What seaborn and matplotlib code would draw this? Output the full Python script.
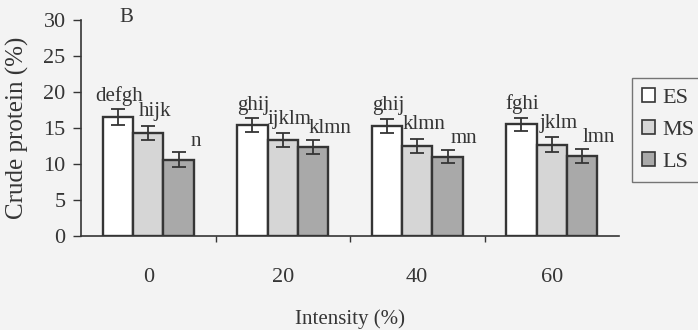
import pandas as pd
import matplotlib
matplotlib.use("Agg")
import matplotlib.pyplot as plt
import seaborn as sns

# Data
intensity = ["0", "20", "40", "60"]
stages = ["ES", "MS", "LS"]
es_vals = [16.5, 15.4, 15.3, 15.5]
ms_vals = [14.3, 13.3, 12.5, 12.7]
ls_vals = [10.6, 12.4, 11.0, 11.1]
es_err = [1.1, 0.95, 1.0, 0.95]
ms_err = [0.95, 0.95, 0.95, 1.0]
ls_err = [1.0, 0.95, 0.9, 0.95]
es_letters = ["defgh", "ghij", "ghij", "fghi"]
ms_letters = ["hijk", "ijklm", "klmn", "jklm"]
ls_letters = ["n", "klmn", "mn", "lmn"]

vals = [es_vals, ms_vals, ls_vals]
errs = [es_err, ms_err, ls_err]
letters = [es_letters, ms_letters, ls_letters]

rows = []
for s, v in zip(stages, vals):
    for x, y in zip(intensity, v):
        rows.append({"Intensity": x, "Stage": s, "CP": y})
data = pd.DataFrame(rows)

sns.set_style("ticks")
plt.rcParams["font.family"] = ["Liberation Serif", "DejaVu Serif"]
ink = "#353535"
bg = "#f3f3f3"

fig = plt.figure(figsize=(6.98, 3.3), dpi=100, facecolor=bg)
ax = fig.add_axes([81 / 698, 1 - 236 / 330, 538 / 698, 216 / 330])
ax.set_facecolor(bg)

palette = {"ES": "#ffffff", "MS": "#d6d6d6", "LS": "#a9a9a9"}
sns.barplot(data=data, x="Intensity", y="CP", hue="Stage", order=intensity,
            hue_order=stages, palette=palette, width=0.68, errorbar=None,
            edgecolor=ink, linewidth=1.7, saturation=1, ax=ax, legend=False)

# error bars and letters
bar_conts = list(ax.containers)
offsets = [(1, 6), (5, 7), (12, 5)]
for i, cont in enumerate(bar_conts):
    xs = [b.get_x() + b.get_width() / 2 for b in cont]
    hs = [b.get_height() for b in cont]
    ax.errorbar(xs, hs, yerr=errs[i], fmt="none", ecolor=ink, elinewidth=1.3,
                capsize=5, capthick=1.3)
    for x, h, e, t in zip(xs, hs, errs[i], letters[i]):
        ax.annotate(t, (x, h + e), xytext=offsets[i], textcoords="offset points",
                    ha="center", va="baseline", fontsize=15, color=ink)

ax.set_ylim(0, 30)
ax.set_xlim(-0.5, 3.5)
ax.set_yticks(range(0, 31, 5))
ax.set_xticks([0.5, 1.5, 2.5], minor=True)
ax.tick_params(axis="x", which="major", length=0, pad=23, labelsize=16, colors=ink)
ax.tick_params(axis="x", which="minor", length=4, width=1, color=ink)
ax.tick_params(axis="y", length=6, width=1, labelsize=16, colors=ink, pad=5)
sns.despine(ax=ax)
for sp in ["left", "bottom"]:
    ax.spines[sp].set_color(ink)
    ax.spines[sp].set_linewidth(1.2)

ax.set_xlabel("Intensity (%)", fontsize=15, color=ink, labelpad=16)
ax.set_ylabel("Crude protein (%)", fontsize=18, color=ink)
ax.yaxis.set_label_coords(-52 / 538, 0.5)
fig.text(126 / 698, 1 - 18 / 330, "B", fontsize=15, color=ink, ha="center", va="center")

handles = [plt.Rectangle((0, 0), 1, 1, facecolor=palette[s], edgecolor=ink, linewidth=1.2)
           for s in stages]
leg = ax.legend(handles, stages, loc="upper left",
                bbox_to_anchor=(632 / 698, 1 - 78 / 330), bbox_transform=fig.transFigure,
                frameon=True, fancybox=False, edgecolor="#555555", fontsize=16,
                handlelength=0.6, handleheight=0.6, handletextpad=0.3,
                labelspacing=0.55, borderpad=0.45, borderaxespad=0)
leg.get_frame().set_facecolor(bg)
leg.get_frame().set_linewidth(1.0)
for t in leg.get_texts():
    t.set_color(ink)

plt.savefig("out.png", dpi=100, facecolor=bg)
